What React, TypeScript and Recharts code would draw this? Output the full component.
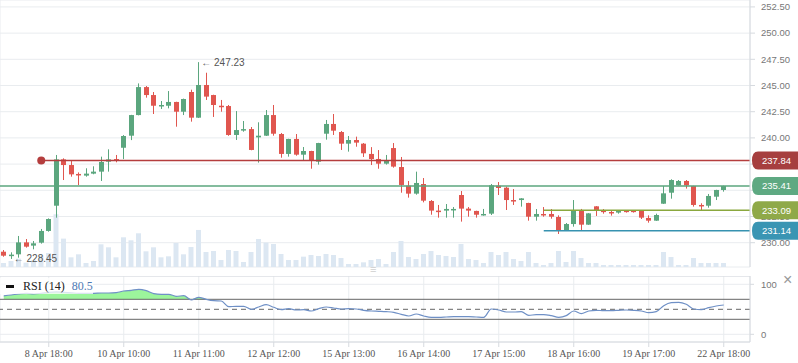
import {
  ComposedChart,
  Bar,
  Line,
  Area,
  XAxis,
  YAxis,
  CartesianGrid,
  ReferenceLine,
  ReferenceDot,
} from "recharts";

// ─── Data ────────────────────────────────────────────────────────────────────
const OPEN = [
  229.14, 228.78, 228.89, 230.03, 229.72, 230.0, 231.12, 233.53, 237.95, 237.41,
  236.56, 236.4, 236.59, 236.78, 237.73, 237.98, 239.06, 240.21, 242.18, 244.85,
  244.09, 243.04, 243.07, 243.43, 242.5, 244.38, 241.93, 245.05, 244.09, 243.07,
  243.04, 240.28, 240.78, 240.84, 240.05, 240.21, 242.18, 240.37, 238.47, 239.9,
  238.4, 238.75, 237.73, 240.4, 241.33, 240.56, 239.45, 239.8, 239.45, 238.47,
  237.99, 237.54, 239.03, 237.22, 235.44, 234.68, 235.6, 233.98, 233.06, 233.06,
  233.15, 234.55, 233.25, 233.03, 232.64, 232.77, 235.44, 235.25, 234.07, 234.07,
  233.79, 232.48, 232.74, 232.74, 232.45, 231.21, 231.78, 233.06, 231.72, 233.47,
  233.06, 232.93, 232.87, 233.06, 233.06, 233.03, 232.36, 232.1, 233.72, 234.77,
  235.47, 235.89, 235.41, 233.6, 233.53, 234.39, 235.03,
];
const HIGH = [
  229.3, 229.08, 230.64, 230.35, 230.16, 231.31, 232.32, 238.37, 238.05, 237.79,
  236.71, 237.1, 237.29, 238.21, 238.91, 238.37, 240.27, 242.2, 245.2, 244.95,
  244.38, 243.52, 244.47, 243.45, 243.75, 244.6, 247.23, 246.22, 244.12, 243.62,
  243.14, 242.56, 241.61, 241.04, 241.49, 242.66, 243.14, 240.47, 239.92, 240.37,
  239.13, 238.77, 239.53, 241.71, 242.28, 240.66, 240.18, 240.12, 239.51, 239.12,
  238.84, 238.37, 239.51, 238.18, 235.89, 236.78, 236.17, 234.07, 233.6, 233.69,
  233.4, 234.93, 233.4, 233.05, 233.22, 235.6, 235.79, 235.35, 235.12, 234.25,
  233.81, 233.21, 233.4, 233.21, 232.61, 231.88, 234.07, 233.22, 232.82, 233.49,
  233.21, 233.06, 233.08, 233.08, 233.08, 233.05, 232.61, 232.77, 235.41, 236.05,
  235.98, 235.98, 235.43, 233.76, 234.65, 235.05, 235.44,
];
const LOW = [
  228.66, 228.45, 228.57, 229.53, 229.37, 229.91, 231.05, 232.39, 235.98, 236.3,
  235.5, 236.3, 236.53, 235.89, 236.78, 237.67, 237.98, 239.79, 242.15, 243.84,
  242.28, 242.76, 242.82, 241.07, 242.18, 241.55, 241.9, 243.62, 242.0, 242.5,
  240.2, 239.8, 240.59, 238.82, 237.64, 240.18, 240.21, 238.11, 238.21, 238.3,
  237.86, 237.06, 237.45, 239.83, 240.28, 238.85, 238.69, 239.16, 238.18, 237.41,
  237.06, 237.45, 237.16, 234.77, 234.3, 234.58, 233.85, 232.67, 232.39, 232.39,
  232.39, 232.01, 232.48, 232.39, 232.58, 232.64, 234.55, 233.12, 233.6, 233.44,
  232.1, 232.1, 232.48, 232.29, 230.83, 231.15, 231.53, 231.21, 231.7, 232.55,
  232.77, 232.58, 232.77, 232.87, 232.87, 232.26, 231.91, 232.08, 233.7, 234.2,
  235.45, 235.16, 233.44, 233.12, 233.34, 234.07, 234.87,
];
const CLOSE = [
  228.76, 228.86, 230.03, 229.62, 229.94, 231.12, 232.26, 237.95, 237.41, 236.52,
  236.5, 236.59, 236.78, 237.7, 237.95, 237.92, 240.18, 242.18, 244.85, 244.09,
  243.07, 243.14, 243.43, 242.5, 243.71, 241.93, 245.05, 243.94, 243.14, 243.0,
  240.28, 240.75, 240.84, 238.85, 240.21, 242.18, 240.4, 238.47, 239.9, 238.4,
  238.75, 237.86, 239.51, 241.33, 240.69, 239.45, 239.8, 239.55, 238.53, 237.98,
  237.54, 237.83, 237.26, 235.51, 234.68, 235.7, 234.01, 233.06, 233.0, 233.22,
  233.22, 233.25, 233.06, 232.67, 232.74, 235.48, 235.22, 234.07, 234.01, 234.23,
  232.48, 232.74, 232.61, 232.48, 231.21, 231.78, 233.06, 231.72, 232.8, 233.12,
  232.96, 232.9, 233.06, 232.96, 232.96, 232.39, 232.1, 232.64, 234.71, 235.98,
  235.89, 235.47, 233.6, 233.54, 234.46, 235.03, 235.41,
];
const VOLUME = [
  12, 18, 25, 13, 20, 35, 42, 158, 85, 29,
  38, 12, 18, 68, 59, 29, 89, 80, 101, 47,
  59, 29, 32, 72, 38, 60, 111, 45, 48, 21,
  51, 48, 15, 45, 84, 73, 69, 39, 21, 21,
  31, 36, 33, 39, 36, 27, 9, 9, 14, 21,
  24, 9, 45, 78, 30, 24, 39, 48, 36, 33,
  30, 69, 24, 21, 12, 45, 36, 45, 24, 18,
  45, 12, 6, 12, 48, 15, 48, 27, 12, 12,
  6, 6, 6, 6, 6, 6, 6, 6, 45, 30,
  6, 6, 27, 12, 12, 12, 12,
];
const RSI = [
  77, 78.6, 80.6, 82, 80.6, 82, 84, 85, 84, 83,
  82, 82, 82, 82.6, 82.6, 83.3, 86.6, 88, 90, 87.3,
  81.3, 80, 80, 76, 77.3, 68.6, 74, 70, 67.3, 66.6,
  55.3, 56, 56, 50, 54.6, 59.3, 54, 49.3, 51.3, 48.6,
  49.3, 46.6, 51.3, 54.6, 52.6, 50.6, 51.3, 50.6, 48, 46.6,
  46, 45.3, 44, 40, 36.6, 40.6, 36.6, 34, 34, 34.6,
  35.3, 35.3, 35.3, 34.6, 34, 50.6, 48.6, 44.6, 44.6, 45.3,
  38, 39.3, 39.3, 37.3, 34, 37.3, 46.6, 41.3, 46.6, 48,
  47.3, 47.3, 48, 48.6, 48, 46.6, 43.3, 45.3, 57.3, 63.3,
  64, 60, 50.6, 49.3, 53.3, 56.6, 58.6,
];

const TICK_IDX = [6, 16, 26, 36, 46, 56, 66, 76, 86, 96];
const TICK_LABELS = [
  "8 Apr 18:00",
  "10 Apr 10:00",
  "11 Apr 11:00",
  "12 Apr 12:00",
  "15 Apr 13:00",
  "16 Apr 14:00",
  "17 Apr 15:00",
  "18 Apr 16:00",
  "19 Apr 17:00",
  "22 Apr 18:00",
];
const PRICE_TICKS = [230, 232.5, 235, 237.5, 240, 242.5, 245, 247.5, 250, 252.5];
const RSI_TICKS = [0, 100];

// levels drawn across the price pane
const LEVEL_HIGH = 237.84;
const LEVEL_LAST = 235.41;
const LEVEL_MID = 233.09;
const LEVEL_LOW = 231.14;
const PEAK = { i: 26, v: 247.23 };
const TROUGH = { i: 1, v: 228.45 };

const GREEN = "#5ba67e";
const RED = "#e0564f";
const VOL = "#dce7f2";
const GRID = "#e9ecef";
const AXIS = "#d6dadf";
const SANS = "'Liberation Sans', Arial, sans-serif";
const SERIF = "'Liberation Serif', 'Times New Roman', serif";

const rows = OPEN.map((o, i) => ({
  i,
  open: o,
  high: HIGH[i],
  low: LOW[i],
  close: CLOSE[i],
  range: [LOW[i], HIGH[i]],
  vol: VOLUME[i],
  rsi: RSI[i],
  hot: [70, Math.max(RSI[i], 70)],
}));

const X_DOMAIN: [number, number] = [-0.5, 99.5];
const P_DOMAIN: [number, number] = [227.68, 253.16];

// ─── Shapes ──────────────────────────────────────────────────────────────────
function Candle(props: any) {
  const { x, y, width, height, payload } = props;
  if (x == null || !payload) return null;
  const { open, close, high, low } = payload;
  const top = Math.min(y, y + height);
  const h = Math.abs(height);
  const k = high > low ? h / (high - low) : 0;
  const color = close >= open ? GREEN : RED;
  const cx = Math.floor(x + width / 2) + 0.5;
  const bTop = top + (high - Math.max(open, close)) * k;
  const bH = Math.max(1.5, Math.abs(open - close) * k);
  return (
    <g>
      <line x1={cx} x2={cx} y1={top} y2={top + h} stroke={color} strokeWidth={1} />
      <rect x={cx - 2.5} y={bTop} width={5} height={bH} fill={color} />
    </g>
  );
}

function Tag(props: any) {
  const { viewBox, text, color } = props;
  if (!viewBox) return null;
  const x = viewBox.x + viewBox.width + 2;
  const y = viewBox.y;
  const h = 18;
  const r = 6;
  const d = `M${x + r},${y - h / 2} H${x + 52} V${y + h / 2} H${x + r} Q${x},${y + h / 2} ${x},${y} Q${x},${y - h / 2} ${x + r},${y - h / 2} Z`;
  return (
    <g>
      <path d={d} fill={color} />
      <text x={x + 10} y={y} dy="0.35em" fill="#fff" fontSize={9.5} fontFamily={SANS}>
        {text}
      </text>
    </g>
  );
}

function Note(props: any) {
  const { viewBox, text } = props;
  if (!viewBox) return null;
  return (
    <text
      x={viewBox.x + viewBox.width + 2}
      y={viewBox.y + viewBox.height / 2}
      dy="0.35em"
      fill="#555"
      fontSize={10}
      fontFamily={SANS}
    >
      {text}
    </text>
  );
}

const fmtTime = (v: number) => TICK_LABELS[TICK_IDX.indexOf(v)] ?? "";

export default function App() {
  return (
    <div style={{ position: "relative", width: 798, height: 363, background: "#fff", overflow: "hidden" }}>
      <style>{"body{margin:0}"}</style>

      {/* price + volume pane */}
      <div style={{ position: "absolute", left: 0, top: 0 }}>
        <ComposedChart width={798} height={268} data={rows} margin={{ top: 0, right: 0, left: 0, bottom: 0 }}>
          <XAxis
            xAxisId="x"
            dataKey="i"
            type="number"
            domain={X_DOMAIN}
            ticks={TICK_IDX}
            allowDataOverflow
            height={1}
            tick={false}
            tickLine={false}
            axisLine={{ stroke: AXIS }}
          />
          <XAxis xAxisId="v" dataKey="i" type="number" domain={X_DOMAIN} hide />
          <YAxis
            yAxisId="p"
            orientation="right"
            domain={P_DOMAIN}
            ticks={PRICE_TICKS}
            allowDataOverflow
            width={48}
            tickSize={5}
            tickMargin={6}
            tickFormatter={(v) => v.toFixed(2)}
            tick={{ fontSize: 9.5, fill: "#777", fontFamily: SANS }}
            axisLine={{ stroke: AXIS }}
            tickLine={{ stroke: AXIS }}
          />
          <YAxis yAxisId="vol" domain={[0, 800]} hide />
          <CartesianGrid xAxisId="x" yAxisId="p" stroke={GRID} />
          <Bar xAxisId="v" yAxisId="vol" dataKey="vol" barSize={5} fill={VOL} isAnimationActive={false} />
          <ReferenceLine
            xAxisId="x"
            yAxisId="p"
            segment={[{ x: 5, y: LEVEL_HIGH }, { x: 99.5, y: LEVEL_HIGH }]}
            stroke="#b43d3d"
            strokeWidth={1.5}
          />
          <ReferenceLine xAxisId="x" yAxisId="p" y={LEVEL_LAST} stroke={GREEN} strokeWidth={1.5} />
          <ReferenceLine
            xAxisId="x"
            yAxisId="p"
            segment={[{ x: 72, y: LEVEL_MID }, { x: 99.5, y: LEVEL_MID }]}
            stroke="#8aa83e"
            strokeWidth={1.5}
          />
          <ReferenceLine
            xAxisId="x"
            yAxisId="p"
            segment={[{ x: 72, y: LEVEL_LOW }, { x: 99.5, y: LEVEL_LOW }]}
            stroke="#3792b0"
            strokeWidth={1.5}
          />
          <Bar
            xAxisId="x"
            yAxisId="p"
            dataKey="range"
            barSize={5}
            shape={<Candle />}
            isAnimationActive={false}
          />
          <ReferenceDot xAxisId="x" yAxisId="p" x={5} y={LEVEL_HIGH} r={4} fill="#b43d3d" stroke="none" />
          <ReferenceDot
            xAxisId="x"
            yAxisId="p"
            x={PEAK.i}
            y={PEAK.v}
            r={0.5}
            fill="none"
            stroke="none"
            label={<Note text={`← ${PEAK.v.toFixed(2)}`} />}
          />
          <ReferenceDot
            xAxisId="x"
            yAxisId="p"
            x={TROUGH.i}
            y={TROUGH.v}
            r={0.5}
            fill="none"
            stroke="none"
            label={<Note text={`← ${TROUGH.v.toFixed(2)}`} />}
          />
        </ComposedChart>
      </div>

      {/* price tags, laid over the axis labels */}
      <div style={{ position: "absolute", left: 0, top: 0 }}>
        <ComposedChart width={798} height={268} data={rows} margin={{ top: 0, right: 48, left: 0, bottom: 1 }}>
          <XAxis xAxisId="x" dataKey="i" type="number" domain={X_DOMAIN} hide />
          <YAxis yAxisId="p" domain={P_DOMAIN} allowDataOverflow hide />
          <ReferenceLine
            xAxisId="x"
            yAxisId="p"
            y={LEVEL_HIGH}
            stroke="none"
            label={<Tag text={LEVEL_HIGH.toFixed(2)} color="#a63f3f" />}
          />
          <ReferenceLine
            xAxisId="x"
            yAxisId="p"
            y={LEVEL_LAST}
            stroke="none"
            label={<Tag text={LEVEL_LAST.toFixed(2)} color="#5ea982" />}
          />
          <ReferenceLine
            xAxisId="x"
            yAxisId="p"
            y={LEVEL_MID}
            stroke="none"
            label={<Tag text={LEVEL_MID.toFixed(2)} color="#8fa948" />}
          />
          <ReferenceLine
            xAxisId="x"
            yAxisId="p"
            y={LEVEL_LOW}
            stroke="none"
            label={<Tag text={LEVEL_LOW.toFixed(2)} color="#3a95b3" />}
          />
        </ComposedChart>
      </div>

      <div style={{ position: "absolute", left: 370, top: 264, fontSize: 11, lineHeight: 1, color: "#cfcfcf", fontFamily: SANS }}>
        ≡
      </div>

      {/* RSI pane */}
      <div style={{ position: "absolute", left: 0, top: 276 }}>
        <ComposedChart width={798} height={87} data={rows} margin={{ top: 0, right: 0, left: 0, bottom: 0 }}>
          <XAxis
            xAxisId="x"
            dataKey="i"
            type="number"
            domain={X_DOMAIN}
            ticks={TICK_IDX}
            interval={0}
            allowDataOverflow
            height={21}
            tickSize={5}
            tickMargin={3}
            tickFormatter={fmtTime}
            tick={{ fontSize: 10, fill: "#555", fontFamily: SERIF }}
            axisLine={{ stroke: AXIS }}
            tickLine={{ stroke: AXIS }}
          />
          <YAxis
            yAxisId="r"
            orientation="right"
            domain={[-15.4, 116.6]}
            ticks={RSI_TICKS}
            allowDataOverflow
            width={48}
            tickSize={4}
            tickMargin={7}
            tick={{ fontSize: 9.5, fill: "#777", fontFamily: SANS }}
            axisLine={{ stroke: AXIS }}
            tickLine={{ stroke: AXIS }}
          />
          <CartesianGrid xAxisId="x" yAxisId="r" stroke={GRID} />
          <ReferenceLine xAxisId="x" yAxisId="r" y={116.6} stroke={AXIS} />
          <Area
            xAxisId="x"
            yAxisId="r"
            type="linear"
            dataKey="hot"
            stroke="none"
            fill="#9cf59c"
            fillOpacity={1}
            isAnimationActive={false}
          />
          <ReferenceLine xAxisId="x" yAxisId="r" y={70} stroke="#666" />
          <ReferenceLine xAxisId="x" yAxisId="r" y={30} stroke="#666" />
          <ReferenceLine xAxisId="x" yAxisId="r" y={50} stroke="#666" strokeDasharray="5 4" />
          <Line
            xAxisId="x"
            yAxisId="r"
            type="monotone"
            dataKey="rsi"
            stroke="#6f90c6"
            strokeWidth={1.2}
            dot={false}
            isAnimationActive={false}
          />
        </ComposedChart>
      </div>

      {/* RSI legend */}
      <div
        style={{
          position: "absolute",
          left: 0,
          top: 278,
          width: 93,
          height: 16,
          background: "rgba(255,255,255,0.75)",
          display: "flex",
          alignItems: "center",
          fontFamily: SERIF,
          fontSize: 12,
          lineHeight: 1,
        }}
      >
        <span style={{ display: "inline-block", width: 8, height: 3, background: "#111", marginLeft: 6, marginRight: 9 }} />
        <span style={{ color: "#222" }}>RSI (14)</span>
        <span style={{ color: "#4f79b5", marginLeft: 7 }}>80.5</span>
      </div>
      <div style={{ position: "absolute", left: 783, top: 272, fontSize: 16, lineHeight: 1, color: "#999", fontFamily: SANS }}>
        ×
      </div>
    </div>
  );
}
